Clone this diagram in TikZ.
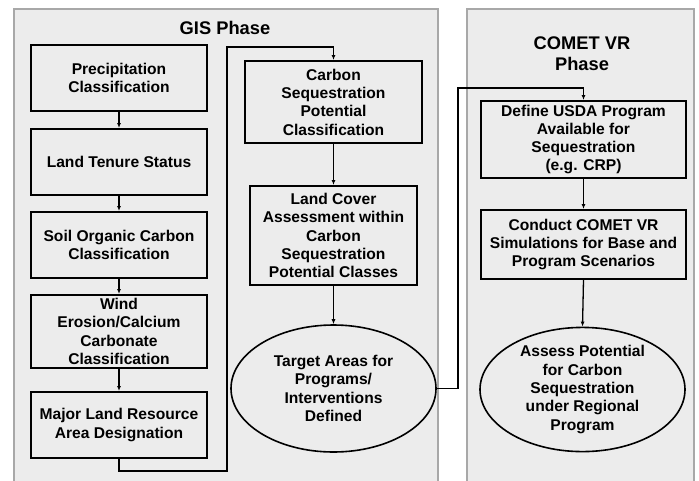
\documentclass[tikz,border=0pt]{standalone}
\usepackage{fontspec}
\setmainfont{Liberation Sans}
\usetikzlibrary{arrows.meta,shapes.geometric}
\definecolor{panelfill}{HTML}{ECECEC}
\definecolor{panelline}{HTML}{A8A8A8}
\begin{document}
\begin{tikzpicture}[x=1pt,y=-1pt,
  panel/.style={fill=panelfill,draw=panelline,line width=1.2pt},
  stepbox/.style={draw=black,line width=2pt,fill=panelfill,align=center,
    font=\bfseries\fontsize{15.6}{18.3}\selectfont,inner sep=0pt},
  goal/.style={ellipse,draw=black,line width=1.6pt,fill=panelfill,align=center,
    font=\bfseries\fontsize{15.6}{18.3}\selectfont,inner sep=0pt},
  title/.style={align=center,font=\bfseries\fontsize{18.3}{21}\selectfont},
  flow/.style={draw=black,line width=1.3pt,-{Latex[length=5pt,width=4pt]}}]
\useasboundingbox (0,0) rectangle (699,480);
\fill[white] (0,0) rectangle (699,480);
% phase panels
\draw[panel] (14,9) rectangle (438,483);
\draw[panel] (467,9) rectangle (694,483);
\node[title] (gis) at (225,28) {GIS Phase};
\node[title] (comet) at (582,53.5) {COMET VR\\Phase};
% GIS phase, first column
\node[stepbox,minimum width=176pt,minimum height=66pt] (precip) at (119,78) {Precipitation\\Classification};
\node[stepbox,minimum width=176pt,minimum height=66pt] (tenure) at (119,162) {Land Tenure Status};
\node[stepbox,minimum width=176pt,minimum height=66pt] (soc) at (119,245) {Soil Organic Carbon\\Classification};
\node[stepbox,minimum width=176pt,minimum height=73pt] (wind) at (119,331.5) {Wind\\Erosion/Calcium\\Carbonate\\Classification};
\node[stepbox,minimum width=176pt,minimum height=66pt] (mlra) at (119,425) {Major Land Resource\\Area Designation};
% GIS phase, second column
\node[stepbox,minimum width=177pt,minimum height=82pt] (csp) at (333.5,102) {Carbon\\Sequestration\\Potential\\Classification};
\node[stepbox,minimum width=167pt,minimum height=99pt] (cover) at (333.5,235.5) {Land Cover\\Assessment within\\Carbon\\Sequestration\\Potential Classes};
\node[goal,minimum width=205pt,minimum height=127pt] (target) at (333.5,388.5) {Target Areas for\\Programs/\\Interventions\\Defined};
% COMET VR phase
\node[stepbox,minimum width=205pt,minimum height=77pt] (usda) at (583.5,139.5) {Define USDA Program\\Available for\\Sequestration\\(e.g. CRP)};
\node[stepbox,minimum width=205pt,minimum height=69pt] (sim) at (583.5,244.5) {Conduct COMET VR\\Simulations for Base and\\Program Scenarios};
\node[goal,minimum width=205pt,minimum height=115pt] (assess) at (582.5,389.5) {Assess Potential\\for Carbon\\Sequestration\\under Regional\\Program};
% connectors
\draw[flow] (precip) -- (tenure);
\draw[flow] (tenure) -- (soc);
\draw[flow] (soc) -- (wind);
\draw[flow] (wind) -- (mlra);
\coordinate (l1) at (119,471);
\coordinate (l2) at (227,471);
\coordinate (l3) at (227,47);
\coordinate (l4) at (333.5,47);
\draw[flow] (mlra.south) -- (l1) -- (l2) -- (l3) -- (l4) -- (csp.north);
\draw[flow] (csp) -- (cover);
\draw[flow] (cover) -- (target);
\coordinate (r1) at (458,388.5);
\coordinate (r2) at (458,88);
\coordinate (r3) at (583.5,88);
\draw[flow] (target.east) -- (r1) -- (r2) -- (r3) -- (usda.north);
\draw[flow] (usda) -- (sim);
\draw[flow] (sim.south) -- (assess.north);
\end{tikzpicture}
\end{document}
